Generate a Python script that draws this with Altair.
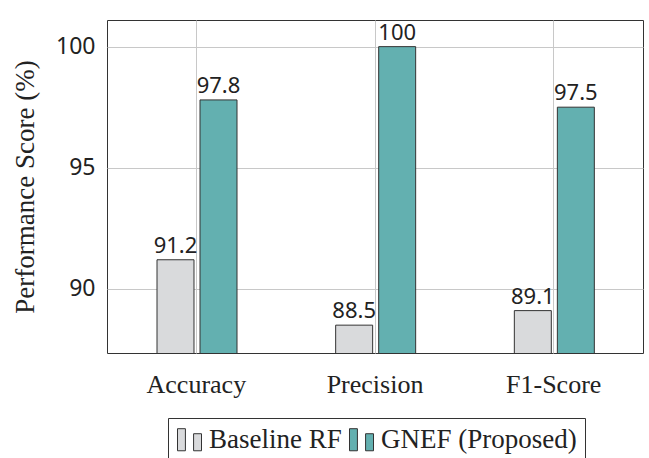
import altair as alt
import pandas as pd

metrics = ["Accuracy", "Precision", "F1-Score"]
baseline = [91.2, 88.5, 89.1]
gnef = [97.8, 100.0, 97.5]
series = ["Baseline RF", "GNEF (Proposed)"]
colors = ["#D9DADC", "#63B0B0"]

rows = []
for m, b, g in zip(metrics, baseline, gnef):
    rows.append({"metric": m, "series": series[0], "value": b})
    rows.append({"metric": m, "series": series[1], "value": g})
df = pd.DataFrame(rows)

sym = "M-1,-0.92H-0.34V0.92H-1Z M0.34,-0.5H1V0.92H0.34Z"

x = alt.X("metric:N", sort=metrics, title=None,
          scale=alt.Scale(paddingInner=0, paddingOuter=0),
          axis=alt.Axis(labelAngle=0, labelFont="Liberation Serif", labelFontSize=26,
                        labelColor="#222", labelPadding=18, ticks=False, domain=False,
                        grid=True, bandPosition=0.5, gridColor="#c8c8c8"))
xo = alt.XOffset("series:N", sort=series,
                 scale=alt.Scale(range=[50, 130], paddingInner=0.14, paddingOuter=0))
y = alt.Y("value:Q", title="Performance Score (%)",
          scale=alt.Scale(domain=[87.35, 101.1], zero=False, nice=False),
          axis=alt.Axis(values=[90, 95, 100], labelFont="Noto Sans", labelFontSize=23,
                        labelColor="#222", labelPadding=12, ticks=False, domain=False,
                        gridColor="#c8c8c8", titleFont="Liberation Serif", titleFontSize=27,
                        titleFontWeight="normal", titleColor="#222", titlePadding=16))
color = alt.Color("series:N", sort=series, scale=alt.Scale(domain=series, range=colors),
                  legend=alt.Legend(title=None, orient="none", legendX=61, legendY=398,
                                    direction="horizontal", symbolType=sym, symbolSize=576,
                                    symbolStrokeColor="#333", symbolStrokeWidth=1,
                                    labelFont="Liberation Serif", labelFontSize=27,
                                    labelColor="#222", labelLimit=0, strokeColor="#333",
                                    padding=8, columnPadding=5, symbolOffset=0,
                                    labelOffset=6, fillColor="white"))

bars = alt.Chart(df).mark_bar(stroke="#333", strokeWidth=1, clip=True).encode(
    x=x, xOffset=xo, y=y, color=color)
labels = alt.Chart(df).mark_text(baseline="alphabetic", dy=-7, font="Noto Sans",
                                 fontSize=22, color="#222").encode(
    x=alt.X("metric:N", sort=metrics), xOffset=xo, y="value:Q",
    text=alt.Text("value:Q", format=".3~f"))

chart = alt.layer(bars, labels).properties(
    width=536, height=333, autosize=alt.AutoSizeParams(type="none"),
    padding={"left": 107, "top": 20, "right": 6, "bottom": 105},
).configure_view(stroke="#333", strokeWidth=1)

chart.save("out.html", embed_options={"renderer": "svg", "actions": False})
